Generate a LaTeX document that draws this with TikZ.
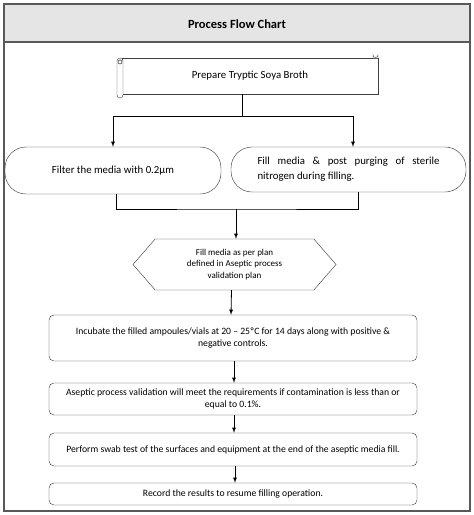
\documentclass[tikz,border=0pt]{standalone}
\usepackage{fontspec}
\setmainfont{Carlito}
\usetikzlibrary{shapes.symbols}

\begin{document}
\begin{tikzpicture}
[
    x=1pt, y=-1pt,
    framestyle/.style = {draw=black!65,
                        line width=1.2pt},
    scrollstyle/.style = {draw=black!75,
                        minimum width=256pt,
                        minimum height=36pt,
                        font=\fontsize{10.8}{12}\selectfont},
    rollstyle/.style  = {draw=black!75,
                        fill=white,
                        rounded corners=3pt},
    ovalstyle/.style  = {draw=black!80,
                        rounded corners=21pt,
                        font=\fontsize{10.8}{15}\selectfont},
    hexstyle/.style   = {draw=black!80,
                        shape=signal,
                        signal to=east and west,
                        signal pointer angle=98,
                        minimum width=203pt,
                        minimum height=51pt,
                        inner sep=0pt,
                        align=center,
                        font=\fontsize{9}{11.5}\selectfont},
    boxstyle/.style   = {draw=black!80,
                        rounded corners=5pt,
                        minimum width=368pt,
                        inner sep=0pt,
                        align=center,
                        font=\fontsize{9.7}{12.5}\selectfont},
    arr/.style        = {line width=0.8pt,
                        -latex}
]

\useasboundingbox (0,0) rectangle (474,515);

% frame and header
\fill[black!10] (4,4) rectangle (470,42);
\draw[framestyle] (4,4) rectangle (470,511);
\draw[framestyle] (4,42) -- (470,42);
\node (title) at (237,24) {\fontsize{12.5}{14}\selectfont\bfseries Process Flow Chart};

% scroll
\node (broth) [scrollstyle] at (250,76) {Prepare Tryptic Soya Broth};
\draw[rollstyle] (117,58) rectangle (123,98);
\draw[black!75, line width=0.6pt] (120,62) circle (2pt);
\draw[black!75, fill=white] (373,58) -- (373,55) arc (180:0:2.5) -- (378,58);

\coordinate (split) at (242,116);
\node (filter) [ovalstyle, minimum width=216pt, minimum height=47pt] at (113,170.5) {Filter the media with 0.2µm};
\node (nitro) [ovalstyle, minimum width=235pt, minimum height=45pt, text width=182pt, align=justify] at (348.5,169.5)
{Fill media \& post purging of sterile\linebreak nitrogen during filling.};

\draw[line width=0.8pt] ([xshift=-8pt]broth.south) -- (split);
\draw[arr] (split) -| (filter.north);
\draw[arr] (split) -| ([xshift=4.5pt]nitro.north);

\coordinate (merge) at (236,209);
\draw[line width=0.8pt] ([xshift=3pt]filter.south) |- (merge) -| ([xshift=9.5pt]nitro.south);

\node (plan) [hexstyle] at (234.5,264.5) {Fill media as per plan\\defined in Aseptic process\\validation plan};
\draw[arr] (merge) -- (merge |- plan.north);

\node (incubate) [boxstyle, minimum height=46pt] at (233,338) {Incubate the filled ampoules/vials at 20 – 25ºC for 14 days along with positive \&\\negative controls.};
\draw[arr] ([xshift=-3pt]plan.south) -- ([xshift=-2pt]incubate.north);

\node (valid) [boxstyle, minimum height=32pt] at (233,399) {Aseptic process validation will meet the requirements if contamination is less than or\\equal to 0.1\%.};
\draw[arr] ([xshift=1pt]incubate.south) -- ([xshift=1pt]valid.north);

\node (swab) [boxstyle, minimum height=33pt] at (233,449.5) {Perform swab test of the surfaces and equipment at the end of the aseptic media fill.};
\draw[arr] ([xshift=1pt]valid.south) -- ([xshift=1pt]swab.north);

\node (record) [boxstyle, minimum height=22pt] at (233,494) {Record the results to resume filling operation.};
\draw[arr] ([xshift=2pt]swab.south) -- ([xshift=2pt]record.north);

\end{tikzpicture}
\end{document}
